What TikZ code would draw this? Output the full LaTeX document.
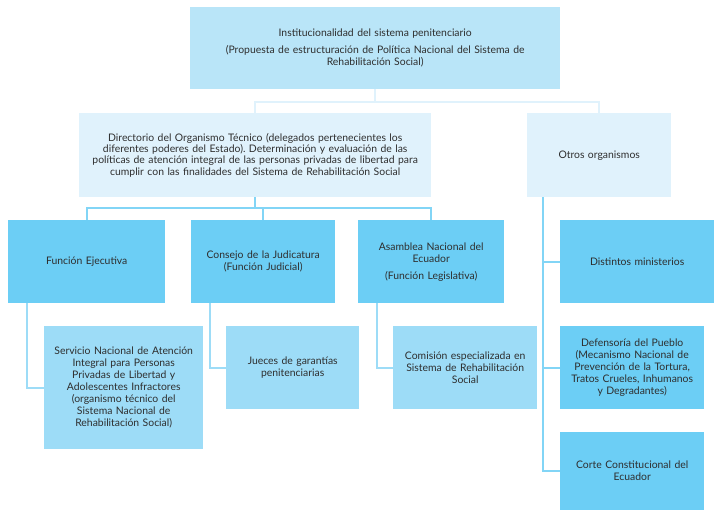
\documentclass[tikz,border=0pt]{standalone}
\usepackage{fontspec}
\setmainfont{Lato}
\usetikzlibrary{calc}
\frenchspacing

\definecolor{topfill}{HTML}{B9E5F8}
\definecolor{palefill}{HTML}{E0F2FC}
\definecolor{midfill}{HTML}{6CCEF5}
\definecolor{softfill}{HTML}{9DDCF7}
\definecolor{inktext}{HTML}{2E2E2E}

\tikzset{
  orgbox/.style 2 args={draw=none, inner xsep=4pt, inner ysep=2pt,
    minimum width=#1, text width=#1-8pt, minimum height=#2,
    align=center, anchor=north west, text=inktext,
    font=\fontsize{10.4}{12}\selectfont},
  palelink/.style={draw=palefill, line width=2pt},
  midlink/.style={draw=midfill!85!white, line width=2pt},
  softlink/.style={draw=softfill, line width=2pt}
}

\begin{document}
\begin{tikzpicture}[x=1pt,y=-1pt]
\useasboundingbox (0,0) rectangle (714,511);

% top level
\node[orgbox={370pt}{82pt}, fill=topfill] (inst) at (190,7)
  {Institucionalidad del sistema penitenciario\\[5pt]
   (Propuesta de estructuración de Política Nacional del Sistema de\\
   Rehabilitación Social)};

% second level
\node[orgbox={352pt}{84pt}, fill=palefill,
  font=\fontsize{10.4}{11.3}\selectfont] (direc) at (79,113)
  {Directorio del Organismo Técnico (delegados pertenecientes los\\
   diferentes poderes del Estado). Determinación y evaluación de las\\
   políticas de atención integral de las personas privadas de libertad para\\
   cumplir con las finalidades del Sistema de Rehabilitación Social};
\node[orgbox={144pt}{84pt}, fill=palefill] (otros) at (527,113)
  {Otros organismos};

% third level
\node[orgbox={157pt}{83pt}, fill=midfill] (ejec) at (8,220)
  {Función Ejecutiva};
\node[orgbox={144pt}{83pt}, fill=midfill] (judi) at (191,220)
  {Consejo de la Judicatura\\(Función Judicial)};
\node[orgbox={146pt}{83pt}, fill=midfill] (asam) at (358,220)
  {Asamblea Nacional del\\Ecuador\\[5pt](Función Legislativa)};
\node[orgbox={154pt}{83pt}, fill=midfill] (minis) at (560,220)
  {Distintos ministerios};

% fourth level
\node[orgbox={159pt}{123pt}, fill=softfill] (snai) at (44,326)
  {Servicio Nacional de Atención\\Integral para Personas\\
   Privadas de Libertad y\\Adolescentes Infractores\\
   (organismo técnico del\\Sistema Nacional de\\
   Rehabilitación Social)};
\node[orgbox={133pt}{83pt}, fill=softfill] (jueces) at (226,326)
  {Jueces de garantías\\penitenciarias};
\node[orgbox={144pt}{83pt}, fill=softfill] (comis) at (393,326)
  {Comisión especializada en\\Sistema de Rehabilitación\\Social};
\node[orgbox={144pt}{83pt}, fill=midfill] (defen) at (560,326)
  {Defensoría del Pueblo\\(Mecanismo Nacional de\\
   Prevención de la Tortura,\\Tratos Crueles, Inhumanos\\
   y Degradantes)};
\node[orgbox={144pt}{78pt}, fill=midfill] (corte) at (560,432)
  {Corte Constitucional del\\Ecuador};

% connectors
\coordinate (busA) at ($(inst.south)+(0,13)$);
\coordinate (busB) at ($(direc.south)+(0,11)$);
\draw[palelink] (inst.south) -- (busA);
\draw[palelink] (direc.north) |- (busA) -| (otros.north);
\draw[midlink] (direc.south) -- (busB);
\draw[midlink] (ejec.north) |- (busB) -| (asam.north);
\draw[midlink] (judi.north) -- (judi.north |- busB);

\draw[softlink] ($(ejec.south west)+(19,0)$) |- (snai.west);
\draw[softlink] ($(judi.south west)+(19,0)$) |- (jueces.west);
\draw[softlink] ($(asam.south west)+(19,0)$) |- (comis.west);

\draw[midlink] ($(otros.south west)+(16,0)$) |- (corte.west);
\draw[midlink] ($(otros.south west)+(16,0)$) |- (minis.west);
\draw[midlink] ($(otros.south west)+(16,0)$) |- (defen.west);
\end{tikzpicture}
\end{document}
